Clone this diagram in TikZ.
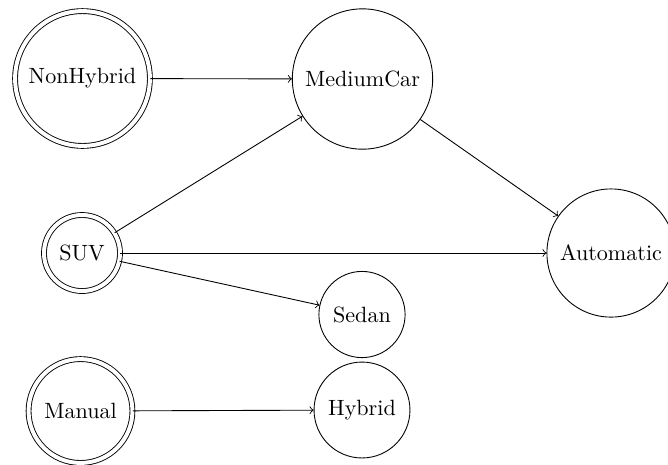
\documentclass[tikz,border=0pt]{standalone}
\begin{document}
\begin{tikzpicture}[x=0.4525pt, y=-0.4525pt,
  state/.style={draw, circle, inner sep=0pt, font=\normalsize},
  start/.style={state, double, double distance=1.8pt},
  edge/.style={->}]
\useasboundingbox (0,0) rectangle (668,464);
\node[start, minimum size=61pt]   (nonhybrid) at (82.5,78.5) {NonHybrid};
\node[state, minimum size=63.5pt] (medium)    at (362.5,79)  {MediumCar};
\node[start, minimum size=34.4pt] (suv)       at (82,253)    {SUV};
\node[state, minimum size=58pt]   (auto)      at (611,253)   {Automatic};
\node[state, minimum size=39pt]   (sedan)     at (362,314.5) {Sedan};
\node[start, minimum size=47pt]   (manual)    at (80.5,411)  {Manual};
\node[state, minimum size=43.4pt] (hybrid)    at (362,410)   {Hybrid};
\draw[edge] (nonhybrid) -- (medium);
\draw[edge] (suv) -- (medium);
\draw[edge] (medium) -- (auto);
\draw[edge] (suv) -- (auto);
\draw[edge] (suv) -- (sedan);
\draw[edge] (manual) -- (hybrid);
\end{tikzpicture}
\end{document}
